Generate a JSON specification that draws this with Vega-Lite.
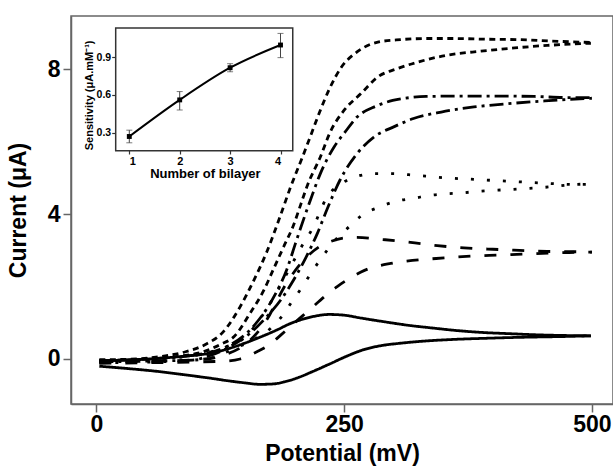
{
"$schema": "https://vega.github.io/schema/vega-lite/v6.json",
"width": 542,
"height": 388,
"autosize": "none",
"padding": {"left": 71, "top": 16, "right": 0, "bottom": 64},
"background": "white",
"config": {"view": {"stroke": "#666", "strokeWidth": 1.5}, "font": "Liberation Sans", "axis": {"grid": false}},
"datasets": {
"cv": [
{"curve":"S1","type":"solid","mV":3,"uA":-0.04},{"curve":"S1","type":"solid","mV":30,"uA":-0.03},{"curve":"S1","type":"solid","mV":64,"uA":0.02},{"curve":"S1","type":"solid","mV":90,"uA":0.08},{"curve":"S1","type":"solid","mV":115,"uA":0.16},{"curve":"S1","type":"solid","mV":135,"uA":0.3},{"curve":"S1","type":"solid","mV":149,"uA":0.43},{"curve":"S1","type":"solid","mV":165,"uA":0.6},{"curve":"S1","type":"solid","mV":182,"uA":0.8},{"curve":"S1","type":"solid","mV":195,"uA":0.97},{"curve":"S1","type":"solid","mV":206,"uA":1.08},{"curve":"S1","type":"solid","mV":220,"uA":1.18},{"curve":"S1","type":"solid","mV":235,"uA":1.23},{"curve":"S1","type":"solid","mV":250,"uA":1.21},{"curve":"S1","type":"solid","mV":267,"uA":1.13},{"curve":"S1","type":"solid","mV":290,"uA":1.03},{"curve":"S1","type":"solid","mV":315,"uA":0.93},{"curve":"S1","type":"solid","mV":341,"uA":0.85},{"curve":"S1","type":"solid","mV":366,"uA":0.78},{"curve":"S1","type":"solid","mV":391,"uA":0.73},{"curve":"S1","type":"solid","mV":416,"uA":0.7},{"curve":"S1","type":"solid","mV":442,"uA":0.67},{"curve":"S1","type":"solid","mV":470,"uA":0.65},{"curve":"S1","type":"solid","mV":499,"uA":0.64},
{"curve":"S2","type":"solid","mV":3,"uA":-0.2},{"curve":"S2","type":"solid","mV":30,"uA":-0.26},{"curve":"S2","type":"solid","mV":64,"uA":-0.35},{"curve":"S2","type":"solid","mV":90,"uA":-0.44},{"curve":"S2","type":"solid","mV":115,"uA":-0.53},{"curve":"S2","type":"solid","mV":135,"uA":-0.61},{"curve":"S2","type":"solid","mV":150,"uA":-0.66},{"curve":"S2","type":"solid","mV":165,"uA":-0.7},{"curve":"S2","type":"solid","mV":178,"uA":-0.69},{"curve":"S2","type":"solid","mV":190,"uA":-0.63},{"curve":"S2","type":"solid","mV":202,"uA":-0.53},{"curve":"S2","type":"solid","mV":218,"uA":-0.35},{"curve":"S2","type":"solid","mV":236,"uA":-0.13},{"curve":"S2","type":"solid","mV":252,"uA":0.07},{"curve":"S2","type":"solid","mV":270,"uA":0.26},{"curve":"S2","type":"solid","mV":290,"uA":0.38},{"curve":"S2","type":"solid","mV":305,"uA":0.43},{"curve":"S2","type":"solid","mV":324,"uA":0.48},{"curve":"S2","type":"solid","mV":360,"uA":0.54},{"curve":"S2","type":"solid","mV":391,"uA":0.57},{"curve":"S2","type":"solid","mV":430,"uA":0.6},{"curve":"S2","type":"solid","mV":470,"uA":0.62},{"curve":"S2","type":"solid","mV":499,"uA":0.64},
{"curve":"D1","type":"dash","mV":3,"uA":-0.08},{"curve":"D1","type":"dash","mV":60,"uA":-0.06},{"curve":"D1","type":"dash","mV":110,"uA":0.0},{"curve":"D1","type":"dash","mV":130,"uA":0.12},{"curve":"D1","type":"dash","mV":150,"uA":0.4},{"curve":"D1","type":"dash","mV":170,"uA":1.0},{"curve":"D1","type":"dash","mV":192,"uA":2.1},{"curve":"D1","type":"dash","mV":210,"uA":2.75},{"curve":"D1","type":"dash","mV":225,"uA":3.1},{"curve":"D1","type":"dash","mV":237,"uA":3.25},{"curve":"D1","type":"dash","mV":250,"uA":3.34},{"curve":"D1","type":"dash","mV":262,"uA":3.36},{"curve":"D1","type":"dash","mV":289,"uA":3.3},{"curve":"D1","type":"dash","mV":317,"uA":3.22},{"curve":"D1","type":"dash","mV":344,"uA":3.13},{"curve":"D1","type":"dash","mV":371,"uA":3.07},{"curve":"D1","type":"dash","mV":400,"uA":3.03},{"curve":"D1","type":"dash","mV":427,"uA":3.0},{"curve":"D1","type":"dash","mV":455,"uA":2.97},{"curve":"D1","type":"dash","mV":488,"uA":2.96},{"curve":"D1","type":"dash","mV":500,"uA":2.95},
{"curve":"D2","type":"dash","mV":3,"uA":-0.12},{"curve":"D2","type":"dash","mV":60,"uA":-0.1},{"curve":"D2","type":"dash","mV":100,"uA":-0.08},{"curve":"D2","type":"dash","mV":130,"uA":-0.06},{"curve":"D2","type":"dash","mV":145,"uA":0.0},{"curve":"D2","type":"dash","mV":162,"uA":0.2},{"curve":"D2","type":"dash","mV":175,"uA":0.4},{"curve":"D2","type":"dash","mV":186,"uA":0.66},{"curve":"D2","type":"dash","mV":200,"uA":1.0},{"curve":"D2","type":"dash","mV":216,"uA":1.38},{"curve":"D2","type":"dash","mV":230,"uA":1.72},{"curve":"D2","type":"dash","mV":243,"uA":2.0},{"curve":"D2","type":"dash","mV":257,"uA":2.25},{"curve":"D2","type":"dash","mV":270,"uA":2.44},{"curve":"D2","type":"dash","mV":297,"uA":2.64},{"curve":"D2","type":"dash","mV":322,"uA":2.73},{"curve":"D2","type":"dash","mV":351,"uA":2.79},{"curve":"D2","type":"dash","mV":378,"uA":2.84},{"curve":"D2","type":"dash","mV":406,"uA":2.87},{"curve":"D2","type":"dash","mV":435,"uA":2.9},{"curve":"D2","type":"dash","mV":462,"uA":2.93},{"curve":"D2","type":"dash","mV":489,"uA":2.95},{"curve":"D2","type":"dash","mV":500,"uA":2.95},
{"curve":"P1","type":"dot","mV":3,"uA":-0.05},{"curve":"P1","type":"dot","mV":60,"uA":0.0},{"curve":"P1","type":"dot","mV":100,"uA":0.1},{"curve":"P1","type":"dot","mV":130,"uA":0.33},{"curve":"P1","type":"dot","mV":150,"uA":0.6},{"curve":"P1","type":"dot","mV":165,"uA":1.1},{"curve":"P1","type":"dot","mV":180,"uA":1.75},{"curve":"P1","type":"dot","mV":195,"uA":2.5},{"curve":"P1","type":"dot","mV":207,"uA":3.1},{"curve":"P1","type":"dot","mV":218,"uA":3.6},{"curve":"P1","type":"dot","mV":233,"uA":4.48},{"curve":"P1","type":"dot","mV":250,"uA":4.89},{"curve":"P1","type":"dot","mV":265,"uA":5.06},{"curve":"P1","type":"dot","mV":282,"uA":5.12},{"curve":"P1","type":"dot","mV":299,"uA":5.12},{"curve":"P1","type":"dot","mV":315,"uA":5.09},{"curve":"P1","type":"dot","mV":332,"uA":5.05},{"curve":"P1","type":"dot","mV":349,"uA":5.01},{"curve":"P1","type":"dot","mV":381,"uA":4.96},{"curve":"P1","type":"dot","mV":415,"uA":4.91},{"curve":"P1","type":"dot","mV":449,"uA":4.86},{"curve":"P1","type":"dot","mV":482,"uA":4.82},{"curve":"P1","type":"dot","mV":500,"uA":4.82},
{"curve":"P2","type":"dot","mV":3,"uA":-0.1},{"curve":"P2","type":"dot","mV":60,"uA":-0.08},{"curve":"P2","type":"dot","mV":110,"uA":0.0},{"curve":"P2","type":"dot","mV":140,"uA":0.3},{"curve":"P2","type":"dot","mV":160,"uA":0.55},{"curve":"P2","type":"dot","mV":176,"uA":0.85},{"curve":"P2","type":"dot","mV":188,"uA":1.21},{"curve":"P2","type":"dot","mV":198,"uA":1.61},{"curve":"P2","type":"dot","mV":208,"uA":2.0},{"curve":"P2","type":"dot","mV":218,"uA":2.43},{"curve":"P2","type":"dot","mV":228,"uA":2.82},{"curve":"P2","type":"dot","mV":240,"uA":3.25},{"curve":"P2","type":"dot","mV":253,"uA":3.6},{"curve":"P2","type":"dot","mV":268,"uA":3.97},{"curve":"P2","type":"dot","mV":286,"uA":4.2},{"curve":"P2","type":"dot","mV":303,"uA":4.36},{"curve":"P2","type":"dot","mV":321,"uA":4.44},{"curve":"P2","type":"dot","mV":336,"uA":4.52},{"curve":"P2","type":"dot","mV":353,"uA":4.56},{"curve":"P2","type":"dot","mV":370,"uA":4.59},{"curve":"P2","type":"dot","mV":385,"uA":4.63},{"curve":"P2","type":"dot","mV":402,"uA":4.66},{"curve":"P2","type":"dot","mV":419,"uA":4.68},{"curve":"P2","type":"dot","mV":435,"uA":4.71},{"curve":"P2","type":"dot","mV":452,"uA":4.74},{"curve":"P2","type":"dot","mV":467,"uA":4.78},{"curve":"P2","type":"dot","mV":483,"uA":4.82},{"curve":"P2","type":"dot","mV":500,"uA":4.83},
{"curve":"C1","type":"dashdot","mV":3,"uA":-0.05},{"curve":"C1","type":"dashdot","mV":50,"uA":0.0},{"curve":"C1","type":"dashdot","mV":97,"uA":0.1},{"curve":"C1","type":"dashdot","mV":120,"uA":0.22},{"curve":"C1","type":"dashdot","mV":135,"uA":0.39},{"curve":"C1","type":"dashdot","mV":155,"uA":0.8},{"curve":"C1","type":"dashdot","mV":171,"uA":1.35},{"curve":"C1","type":"dashdot","mV":181,"uA":1.81},{"curve":"C1","type":"dashdot","mV":192,"uA":2.46},{"curve":"C1","type":"dashdot","mV":201,"uA":3.2},{"curve":"C1","type":"dashdot","mV":209,"uA":3.85},{"curve":"C1","type":"dashdot","mV":216,"uA":4.39},{"curve":"C1","type":"dashdot","mV":226,"uA":5.12},{"curve":"C1","type":"dashdot","mV":240,"uA":5.86},{"curve":"C1","type":"dashdot","mV":251,"uA":6.27},{"curve":"C1","type":"dashdot","mV":263,"uA":6.68},{"curve":"C1","type":"dashdot","mV":282,"uA":6.98},{"curve":"C1","type":"dashdot","mV":299,"uA":7.14},{"curve":"C1","type":"dashdot","mV":317,"uA":7.22},{"curve":"C1","type":"dashdot","mV":333,"uA":7.25},{"curve":"C1","type":"dashdot","mV":368,"uA":7.26},{"curve":"C1","type":"dashdot","mV":405,"uA":7.26},{"curve":"C1","type":"dashdot","mV":442,"uA":7.25},{"curve":"C1","type":"dashdot","mV":476,"uA":7.22},{"curve":"C1","type":"dashdot","mV":500,"uA":7.22},
{"curve":"C2","type":"dashdot","mV":3,"uA":-0.08},{"curve":"C2","type":"dashdot","mV":50,"uA":-0.06},{"curve":"C2","type":"dashdot","mV":97,"uA":-0.03},{"curve":"C2","type":"dashdot","mV":115,"uA":0.1},{"curve":"C2","type":"dashdot","mV":132,"uA":0.3},{"curve":"C2","type":"dashdot","mV":155,"uA":0.71},{"curve":"C2","type":"dashdot","mV":172,"uA":1.17},{"curve":"C2","type":"dashdot","mV":186,"uA":1.63},{"curve":"C2","type":"dashdot","mV":199,"uA":2.18},{"curve":"C2","type":"dashdot","mV":211,"uA":2.78},{"curve":"C2","type":"dashdot","mV":223,"uA":3.47},{"curve":"C2","type":"dashdot","mV":233,"uA":4.15},{"curve":"C2","type":"dashdot","mV":246,"uA":4.95},{"curve":"C2","type":"dashdot","mV":263,"uA":5.67},{"curve":"C2","type":"dashdot","mV":280,"uA":6.13},{"curve":"C2","type":"dashdot","mV":300,"uA":6.41},{"curve":"C2","type":"dashdot","mV":320,"uA":6.64},{"curve":"C2","type":"dashdot","mV":348,"uA":6.82},{"curve":"C2","type":"dashdot","mV":381,"uA":6.96},{"curve":"C2","type":"dashdot","mV":415,"uA":7.05},{"curve":"C2","type":"dashdot","mV":449,"uA":7.12},{"curve":"C2","type":"dashdot","mV":483,"uA":7.18},{"curve":"C2","type":"dashdot","mV":500,"uA":7.2},
{"curve":"Q1","type":"short","mV":3,"uA":-0.02},{"curve":"Q1","type":"short","mV":30,"uA":-0.01},{"curve":"Q1","type":"short","mV":60,"uA":0.05},{"curve":"Q1","type":"short","mV":90,"uA":0.2},{"curve":"Q1","type":"short","mV":110,"uA":0.4},{"curve":"Q1","type":"short","mV":128,"uA":0.75},{"curve":"Q1","type":"short","mV":145,"uA":1.44},{"curve":"Q1","type":"short","mV":159,"uA":2.18},{"curve":"Q1","type":"short","mV":172,"uA":2.96},{"curve":"Q1","type":"short","mV":184,"uA":3.83},{"curve":"Q1","type":"short","mV":196,"uA":4.75},{"curve":"Q1","type":"short","mV":208,"uA":5.58},{"curve":"Q1","type":"short","mV":216,"uA":6.15},{"curve":"Q1","type":"short","mV":225,"uA":6.8},{"curve":"Q1","type":"short","mV":235,"uA":7.45},{"curve":"Q1","type":"short","mV":247,"uA":8.05},{"curve":"Q1","type":"short","mV":263,"uA":8.48},{"curve":"Q1","type":"short","mV":284,"uA":8.75},{"curve":"Q1","type":"short","mV":307,"uA":8.82},{"curve":"Q1","type":"short","mV":334,"uA":8.85},{"curve":"Q1","type":"short","mV":361,"uA":8.85},{"curve":"Q1","type":"short","mV":395,"uA":8.83},{"curve":"Q1","type":"short","mV":425,"uA":8.82},{"curve":"Q1","type":"short","mV":459,"uA":8.78},{"curve":"Q1","type":"short","mV":499,"uA":8.74},
{"curve":"Q2","type":"short","mV":3,"uA":-0.05},{"curve":"Q2","type":"short","mV":40,"uA":-0.02},{"curve":"Q2","type":"short","mV":64,"uA":0.02},{"curve":"Q2","type":"short","mV":90,"uA":0.1},{"curve":"Q2","type":"short","mV":108,"uA":0.2},{"curve":"Q2","type":"short","mV":125,"uA":0.4},{"curve":"Q2","type":"short","mV":139,"uA":0.62},{"curve":"Q2","type":"short","mV":155,"uA":1.26},{"curve":"Q2","type":"short","mV":169,"uA":1.9},{"curve":"Q2","type":"short","mV":179,"uA":2.5},{"curve":"Q2","type":"short","mV":189,"uA":3.1},{"curve":"Q2","type":"short","mV":199,"uA":3.7},{"curve":"Q2","type":"short","mV":206,"uA":4.25},{"curve":"Q2","type":"short","mV":213,"uA":4.8},{"curve":"Q2","type":"short","mV":226,"uA":5.58},{"curve":"Q2","type":"short","mV":236,"uA":6.27},{"curve":"Q2","type":"short","mV":250,"uA":6.87},{"curve":"Q2","type":"short","mV":267,"uA":7.33},{"curve":"Q2","type":"short","mV":284,"uA":7.79},{"curve":"Q2","type":"short","mV":304,"uA":8.02},{"curve":"Q2","type":"short","mV":327,"uA":8.22},{"curve":"Q2","type":"short","mV":354,"uA":8.39},{"curve":"Q2","type":"short","mV":388,"uA":8.5},{"curve":"Q2","type":"short","mV":422,"uA":8.59},{"curve":"Q2","type":"short","mV":455,"uA":8.66},{"curve":"Q2","type":"short","mV":499,"uA":8.72}
],
"inset": [
{"bilayer":1,"sens":0.27,"lo":0.22,"hi":0.32},
{"bilayer":2,"sens":0.56,"lo":0.48,"hi":0.626},
{"bilayer":3,"sens":0.815,"lo":0.783,"hi":0.847},
{"bilayer":4,"sens":0.995,"lo":0.895,"hi":1.087}
],
"frame": [{"x0":0.73,"x1":4.243,"y0":0.157,"y1":1.13}]
},
"layer": [
{
"data": {"name": "cv"},
"mark": {"type": "line", "color": "black", "strokeWidth": 2.8, "interpolate": "monotone"},
"encoding": {
"x": {"field": "mV", "type": "quantitative", "scale": {"domain": [-25.6, 521.3], "nice": false, "zero": false},
 "axis": {"values": [0, 250, 500], "title": "Potential (mV)", "domainColor": "#666", "domainWidth": 1.5, "tickColor": "#666", "tickWidth": 1.5, "tickSize": 8, "labelFont": "Liberation Sans", "labelFontWeight": "bold", "labelFontSize": 23, "labelColor": "black", "labelPadding": 1, "titleFont": "Liberation Sans", "titleFontWeight": "bold", "titleFontSize": 23, "titleColor": "black", "titlePadding": 6}},
"y": {"field": "uA", "type": "quantitative", "scale": {"domain": [-1.243, 9.472], "nice": false, "zero": false},
 "axis": {"values": [0, 4, 8], "title": "Current (μA)", "domainColor": "#666", "domainWidth": 1.5, "tickColor": "#666", "tickWidth": 1.5, "tickSize": 8, "labelFont": "Liberation Sans", "labelFontWeight": "bold", "labelFontSize": 23, "labelColor": "black", "labelPadding": 3, "titleFont": "Liberation Sans", "titleFontWeight": "bold", "titleFontSize": 23, "titleColor": "black", "titlePadding": 17}},
"detail": {"field": "curve", "type": "nominal"},
"strokeDash": {"field": "type", "type": "nominal", "legend": null,
 "scale": {"domain": ["solid", "dash", "dot", "dashdot", "short"], "range": [[1, 0], [12, 14], [3, 13], [14, 5, 3, 5], [6, 4.5]]}}
}
},
{
"layer": [
{
"data": {"name": "frame"},
"mark": {"type": "rect", "fill": "white", "stroke": "#333", "strokeWidth": 1.5},
"encoding": {
"x": {"field": "x0", "type": "quantitative", "title": "Number of bilayer"},
"x2": {"field": "x1"},
"y": {"field": "y0", "type": "quantitative", "title": "Sensitivity (μA.mM⁻¹)"},
"y2": {"field": "y1"}
}
},
{
"data": {"name": "inset"},
"mark": {"type": "errorbar", "ticks": {"size": 6}, "color": "#444", "thickness": 1},
"encoding": {
"x": {"field": "bilayer", "type": "quantitative", "title": "Number of bilayer"},
"y": {"field": "lo", "type": "quantitative", "title": "Sensitivity (μA.mM⁻¹)"},
"y2": {"field": "hi"}
}
},
{
"data": {"name": "inset"},
"mark": {"type": "line", "color": "black", "strokeWidth": 2, "interpolate": "monotone"},
"encoding": {
"x": {"field": "bilayer", "type": "quantitative", "title": "Number of bilayer",
 "scale": {"domain": [1, 4], "range": [58.3, 209.5], "nice": false, "zero": false},
 "axis": {"orient": "bottom", "offset": -254, "values": [1, 2, 3, 4], "format": "d", "domain": false, "tickColor": "#333", "tickWidth": 1.2, "tickSize": 4, "labelFont": "Liberation Sans", "labelFontWeight": "bold", "labelFontSize": 11, "labelColor": "black", "labelPadding": 1, "titleFont": "Liberation Sans", "titleFontWeight": "bold", "titleFontSize": 13, "titleColor": "black", "titlePadding": 1}},
"y": {"field": "sens", "type": "quantitative", "title": "Sensitivity (μA.mM⁻¹)",
 "scale": {"domain": [0.3, 0.9], "range": [116.7, 41], "nice": false, "zero": false},
 "axis": {"orient": "left", "offset": -44.7, "values": [0.3, 0.6, 0.9], "format": ".1f", "domain": false, "tickColor": "#333", "tickWidth": 1.2, "tickSize": 4, "labelFont": "Liberation Sans", "labelFontWeight": "bold", "labelFontSize": 10.5, "labelColor": "black", "labelPadding": 1, "titleFont": "Liberation Sans", "titleFontWeight": "bold", "titleFontSize": 11, "titleColor": "black", "titlePadding": 2}}
}
},
{
"data": {"name": "inset"},
"mark": {"type": "square", "color": "black", "size": 24, "opacity": 1},
"encoding": {
"x": {"field": "bilayer", "type": "quantitative", "title": "Number of bilayer"},
"y": {"field": "sens", "type": "quantitative", "title": "Sensitivity (μA.mM⁻¹)"}
}
}
]
}
],
"resolve": {"scale": {"x": "independent", "y": "independent"}, "axis": {"x": "independent", "y": "independent"}}
}
